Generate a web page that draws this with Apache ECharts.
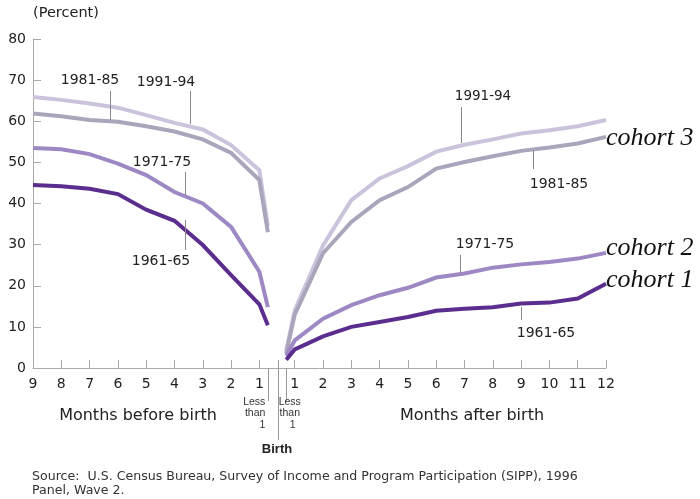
<!DOCTYPE html>
<html>
<head>
<meta charset="utf-8">
<script src="https://cdn.jsdelivr.net/npm/echarts@6/dist/echarts.min.js"></script>
<style>
  html, body { margin: 0; padding: 0; background: #fff; }
  #main { width: 700px; height: 499px; }
</style>
</head>
<body>
<div id="main"></div>
<script>
  // months on the axis
  var monthsBefore = [9, 8, 7, 6, 5, 4, 3, 2, 1];
  var monthsAfter = [1, 2, 3, 4, 5, 6, 7, 8, 9, 10, 11, 12];

  // percent, months before birth (9..1) and the "less than 1" point
  var c6165Before = [44.5, 44.2, 43.6, 42.3, 38.5, 35.8, 29.9, 22.6, 15.5];
  var c7175Before = [53.5, 53.2, 52.0, 49.7, 46.9, 42.8, 40.0, 34.3, 23.4];
  var c8185Before = [61.9, 61.2, 60.3, 59.9, 58.8, 57.5, 55.6, 52.3, 45.7];
  var c9194Before = [65.9, 65.2, 64.3, 63.3, 61.5, 59.6, 58.0, 54.2, 48.1];
  var lt1Before = [10.4, 14.8, 33.0, 34.5];

  // percent, "less than 1" point and months after birth (1..12)
  var lt1After = [2.0, 3.0, 3.6, 4.3];
  var c6165After = [4.5, 7.7, 10.0, 11.2, 12.4, 13.9, 14.4, 14.8, 15.7, 15.9, 16.9, 20.5];
  var c7175After = [6.7, 12.0, 15.3, 17.7, 19.5, 22.0, 23.0, 24.4, 25.2, 25.8, 26.6, 28.0];
  var c8185After = [13.0, 27.9, 35.5, 40.8, 44.0, 48.5, 50.1, 51.5, 52.8, 53.6, 54.6, 56.2];
  var c9194After = [14.0, 29.8, 40.8, 46.1, 49.1, 52.6, 54.3, 55.6, 57.0, 57.8, 58.8, 60.3];

  var cohorts = ['1961-65', '1971-75', '1981-85', '1991-94'];
  var colors = ['#5b2d8e', '#9d88c3', '#aba5bb', '#cbc3dc'];

  // x position of things on the axis
  var posLt1Before = 8.3, posBirth = 8.65, posLt1After = 8.95;
  function posBefore(m) { return 9 - m; }
  function posAfter(m) { return 8.25 + m; }

  var tickPos = [], tickText = {};
  monthsBefore.forEach(function (m) { tickPos.push(posBefore(m)); tickText[posBefore(m)] = String(m); });
  monthsAfter.forEach(function (m) { tickPos.push(posAfter(m)); tickText[posAfter(m)] = String(m); });

  function beforeData(vals, lt1) {
    var arr = vals.map(function (v, i) { return [posBefore(monthsBefore[i]), v]; });
    arr.push([posLt1Before, lt1]);
    return arr;
  }
  function afterData(lt1, vals) {
    var arr = [[posLt1After, lt1]];
    vals.forEach(function (v, i) { arr.push([posAfter(monthsAfter[i]), v]); });
    return arr;
  }

  var befores = [c6165Before, c7175Before, c8185Before, c9194Before];
  var afters = [c6165After, c7175After, c8185After, c9194After];

  var series = [];
  for (var k = 3; k >= 0; k--) {
    [beforeData(befores[k], lt1Before[k]), afterData(lt1After[k], afters[k])].forEach(function (d) {
      series.push({
        name: cohorts[k],
        type: 'line',
        data: d,
        symbol: 'none',
        lineStyle: {color: colors[k], width: 4, join: 'miter'},
        z: 10 - k
      });
    });
  }

  var txt = '#222';
  function label(text, x, y, opts) {
    opts = opts || {};
    return {
      type: 'text', silent: true, z: 100,
      style: {
        text: text, x: x, y: y,
        fill: opts.fill || txt,
        font: opts.font || '14px "DejaVu Sans"',
        textAlign: opts.align || 'center',
        textVerticalAlign: 'middle'
      }
    };
  }
  function leader(x, y1, y2, color) {
    return {
      type: 'line', silent: true, z: 100,
      shape: {x1: x, y1: y1, x2: x, y2: y2},
      style: {stroke: color || '#888', lineWidth: 1}
    };
  }

  var cohortFont = 'italic 26px "Liberation Serif"';
  var graphics = [
    label('(Percent)', 66, 13, {font: '14.5px "DejaVu Sans"'}),
    // left side
    label('1981-85', 90, 80), leader(110.5, 91, 120),
    label('1991-94', 166, 82), leader(190.5, 91, 124),
    label('1971-75', 162, 162), leader(185.5, 172, 195),
    label('1961-65', 161, 261), leader(185.5, 220, 250),
    // right side
    label('1991-94', 483, 96, {font: '13.5px "DejaVu Sans"'}), leader(461.5, 107, 143),
    label('1981-85', 559, 184), leader(533.5, 150, 169),
    label('1971-75', 485, 244), leader(460.5, 255, 273),
    label('1961-65', 546, 333), leader(521.5, 307, 320),
    label('cohort 3', 606, 138, {font: cohortFont, align: 'left', fill: '#111'}),
    label('cohort 2', 606, 248, {font: cohortFont, align: 'left', fill: '#111'}),
    label('cohort 1', 606, 280, {font: cohortFont, align: 'left', fill: '#111'}),
    // axis captions
    label('Months before birth', 138, 416, {font: '16px "DejaVu Sans"'}),
    label('Months after birth', 472, 416, {font: '16px "DejaVu Sans"'}),
    label('Birth', 277, 449, {font: 'bold 13px "Liberation Sans"'}),
    label('Source:  U.S. Census Bureau, Survey of Income and Program Participation (SIPP), 1996', 32, 477,
      {font: '12.6px "DejaVu Sans"', align: 'left', fill: '#333'}),
    label('Panel, Wave 2.', 32, 491, {font: '12.6px "DejaVu Sans"', align: 'left', fill: '#333'})
  ];

  var chart = echarts.init(document.getElementById('main'));
  chart.setOption({
    animation: false,
    backgroundColor: '#fff',
    grid: {left: 33, right: 94, top: 39, bottom: 131},
    xAxis: {
      type: 'value', min: 0, max: 20.25,
      splitLine: {show: false},
      axisLine: {lineStyle: {color: '#aaa'}},
      axisTick: {inside: true, length: 8, customValues: tickPos, lineStyle: {color: '#aaa'}},
      axisLabel: {
        customValues: tickPos, margin: 9, color: '#222',
        fontFamily: 'DejaVu Sans', fontSize: 14,
        formatter: function (v) { return tickText[v] || ''; }
      }
    },
    yAxis: {
      type: 'value', min: 0, max: 80, interval: 10,
      splitLine: {show: false},
      axisLine: {show: true, lineStyle: {color: '#aaa'}},
      axisTick: {show: true, inside: true, length: 8, lineStyle: {color: '#aaa'}},
      axisLabel: {margin: 7, color: '#222', fontFamily: 'DejaVu Sans', fontSize: 14}
    },
    series: series,
    graphic: graphics
  });

  // the "less than 1" and birth marks below the axis
  function px(x) { return chart.convertToPixel({gridIndex: 0}, [x, 0]); }
  var pb = px(posLt1Before), pB = px(posBirth), pa = px(posLt1After);
  var smallFont = '10.5px "Liberation Sans"';
  var extra = [
    leader(Math.round(pb[0]) + 0.5, pb[1], pb[1] + 33, '#999'),
    leader(Math.round(pa[0]) + 0.5, pa[1], pa[1] + 33, '#999'),
    leader(Math.round(pB[0]) + 0.5, pB[1] - 8, pB[1] + 72, '#999'),
    label('Less', pb[0] - 2.5, pb[1] + 34, {font: smallFont, align: 'right', fill: '#333'}),
    label('than', pb[0] - 2.5, pb[1] + 45, {font: smallFont, align: 'right', fill: '#333'}),
    label('1', pb[0] - 2.5, pb[1] + 57, {font: smallFont, align: 'right', fill: '#333'}),
    label('Less', pa[0] + 3.5, pa[1] + 34, {font: smallFont, align: 'center', fill: '#333'}),
    label('than', pa[0] + 3.5, pa[1] + 45, {font: smallFont, align: 'center', fill: '#333'}),
    label('1', pa[0] + 6.5, pa[1] + 57, {font: smallFont, align: 'center', fill: '#333'})
  ];
  chart.setOption({graphic: graphics.concat(extra)});
</script>
</body>
</html>
